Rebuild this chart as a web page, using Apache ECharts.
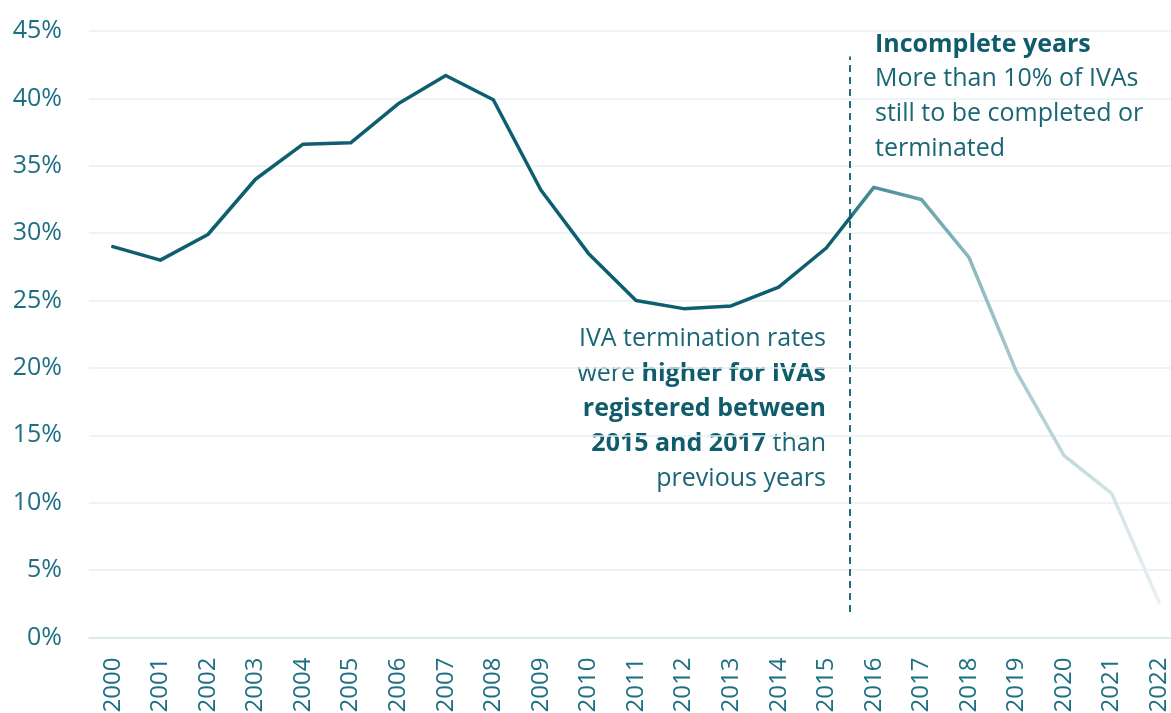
<!DOCTYPE html>
<html>
<head>
<meta charset="utf-8">
<script src="https://cdn.jsdelivr.net/npm/echarts@6/dist/echarts.min.js"></script>
<style>
  html, body { margin: 0; padding: 0; background: #fff; }
  #chart { width: 1171px; height: 713px; }
</style>
</head>
<body>
<div id="chart"></div>
<script>
// IVA termination rate by year of registration
const years = ['2000', '2001', '2002', '2003', '2004', '2005', '2006', '2007', '2008', '2009', '2010',
  '2011', '2012', '2013', '2014', '2015', '2016', '2017', '2018', '2019', '2020', '2021', '2022']
const rates = [29.0, 28.0, 29.9, 34.0, 36.6, 36.7, 39.6, 41.7, 39.9, 33.2, 28.5,
  25.0, 24.4, 24.6, 26.0, 28.9, 33.4, 32.5, 28.2, 19.7, 13.5, 10.7, 2.6]
const yTicks = [0, 5, 10, 15, 20, 25, 30, 35, 40, 45]
const cutoff = 15.5   // boundary between complete and incomplete years

const dark = '#0d5f6f'
const label = '#1d6f83'
const font = '"Open Sans", "Noto Sans", sans-serif'

const chart = echarts.init(document.getElementById('chart'))
const f = cutoff / (years.length - 1)

// rich text styles for the two notes
const note = {
  b: { fontSize: 25, fontWeight: 'bold', fill: '#0f5c6c', lineHeight: 34.7, fontFamily: font },
  r: { fontSize: 25, fill: '#1a6576', lineHeight: 34.7, fontFamily: font }
}

chart.setOption({
  animation: false,
  textStyle: { fontFamily: font },
  // plot runs a little past the right edge of the canvas, as in the original
  grid: { left: 89, width: 1094, top: 31, bottom: 75.5, outerBoundsMode: 'none', containLabel: false },
  xAxis: [{
    type: 'category', data: years, boundaryGap: true,
    axisLine: { lineStyle: { color: '#d6e5e8', width: 1.5 } },
    axisTick: { length: 9, lineStyle: { color: '#d6e5e8', width: 1.5 } },
    axisLabel: { rotate: 90, margin: 20, fontSize: 24, color: label, fontFamily: font, interval: 0 }
  }, {
    type: 'value', min: -0.5, max: years.length - 0.5, show: false
  }],
  yAxis: {
    type: 'value', min: yTicks[0], max: yTicks[yTicks.length - 1], interval: 5,
    axisLine: { show: false }, axisTick: { show: false },
    splitLine: { lineStyle: { color: '#e6f0f2', width: 1.5 } },
    axisLabel: { formatter: '{value}%', fontSize: 25, margin: 27, color: label, fontFamily: font }
  },
  series: [{
    type: 'line', data: rates, symbol: 'none', smooth: false,
    lineStyle: {
      width: 3.5, cap: 'round', join: 'round',
      color: new echarts.graphic.LinearGradient(0, 0, 1, 0, [
        { offset: 0, color: dark },
        { offset: f, color: dark },
        { offset: f + 0.002, color: '#2c7b89' },
        { offset: 16 / 22, color: '#4a8f9a' },
        { offset: 17 / 22, color: '#6aa3ad' },
        { offset: 18 / 22, color: '#8bb8bf' },
        { offset: 19 / 22, color: '#a8cad0' },
        { offset: 20 / 22, color: '#c0d9dd' },
        { offset: 21 / 22, color: '#d2e4e7' },
        { offset: 1, color: '#e9f1f3' }
      ])
    }
  }, {
    type: 'line', xAxisIndex: 1, data: [], silent: true,
    markLine: {
      symbol: 'none', silent: true, label: { show: false },
      lineStyle: { color: dark, width: 1.8, type: [7, 5] },
      data: [[{ coord: [cutoff, 1.9] }, { coord: [cutoff, 43.1] }]]
    }
  }],
  graphic: [{
    type: 'text', left: 875, top: 32,
    style: {
      text: '{b|Incomplete years}\n{r|More than 10% of IVAs}\n{r|still to be completed or}\n{r|terminated}',
      rich: note
    }
  }, {
    type: 'text', right: 1171 - 826, top: 326,
    style: {
      align: 'right',
      text: '{r|IVA termination rates}\n{r|were }{b|higher for IVAs}\n{b|registered between}\n{b|2015 and 2017}{r| than}\n{r|previous years}',
      rich: {
        b: Object.assign({ align: 'right' }, note.b, { lineHeight: 35 }),
        r: Object.assign({ align: 'right' }, note.r, { lineHeight: 35 })
      }
    }
  }]
})
</script>
</body>
</html>
